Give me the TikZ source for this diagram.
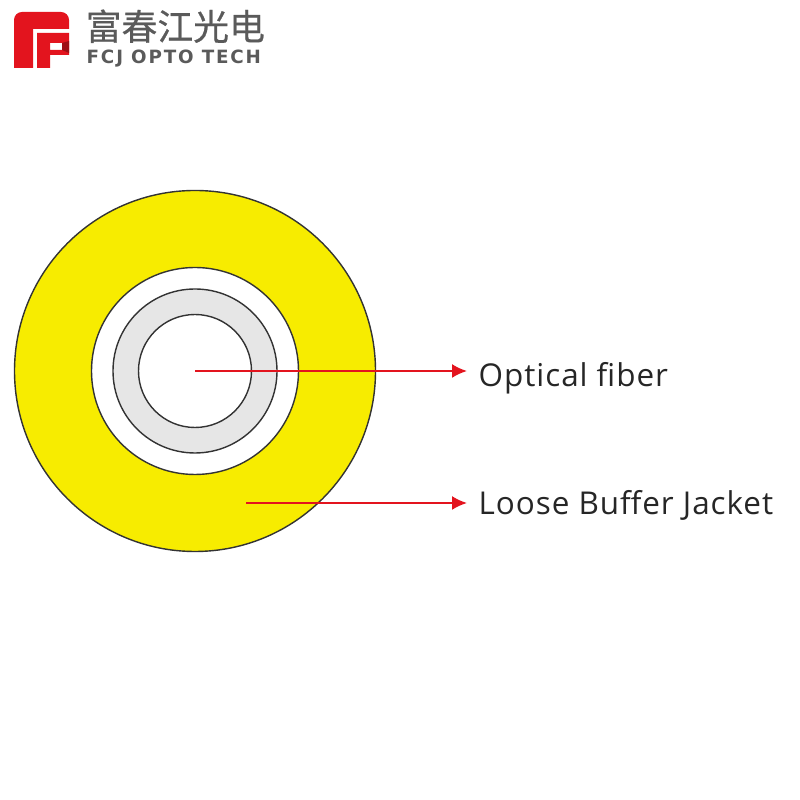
\documentclass[tikz,border=0pt]{standalone}
\usepackage{fontspec}
\setmainfont{Open Sans}
\newfontfamily\cjkfont[FakeBold=0.6]{Noto Sans CJK SC}
\newfontfamily\wordfont[LetterSpace=3]{Open Sans}
\newfontfamily\logofont[LetterSpace=10]{DejaVu Sans}
\usetikzlibrary{arrows.meta}
\definecolor{jacketyellow}{HTML}{F7EC00}
\definecolor{ringgray}{HTML}{E6E6E6}
\definecolor{arrowred}{HTML}{E3141E}
\definecolor{logored}{HTML}{E3141E}
\definecolor{logogray}{HTML}{5A5A5A}
\tikzset{
	ring/.style={draw=black!80,line width=0.4pt},
	callout/.style={draw=arrowred,line width=0.55pt,-{Latex[length=1.5mm,width=1.4mm]}},
	partlabel/.style={anchor=base west,inner sep=0pt,text=black!85,font=\wordfont\fontsize{8.95}{10}\selectfont},
}

\begin{document}
\begin{tikzpicture}[>=latex]
		\useasboundingbox (0,0) rectangle (8,8);
		%\draw [help lines] (0,0) grid (8,8);
		
		\fill [logored] (0.14,7.32) [rounded corners=0.8mm] -- (0.14,7.88) -- (0.69,7.88) [sharp corners] -- (0.69,7.71) -- (0.33,7.71) -- (0.33,7.32) -- cycle;
		\fill [logored] (0.37,7.32) -- (0.37,7.67) -- (0.69,7.67) -- (0.69,7.45) -- (0.50,7.45) -- (0.50,7.50) -- (0.62,7.50) -- (0.62,7.57) -- (0.50,7.57) -- (0.50,7.32) -- cycle;
		\fill [logored!70!black] (0.62,7.57) -- (0.69,7.59) -- (0.69,7.47) -- (0.62,7.50) -- cycle;
		\node [inner sep=0pt,anchor=base west,text=logogray,font=\cjkfont\fontsize{10.2}{11}\selectfont] (logoname) at (0.85,7.60) {富春江光电};
		\node [inner sep=0pt,anchor=base west,text=logogray,font=\logofont\bfseries\fontsize{5.2}{6}\selectfont] (logotext) at (0.86,7.365) {FCJ OPTO TECH};
		
		\coordinate (core) at (1.95,4.29);
		\fill [ring,fill=jacketyellow] (core) circle (1.805);
		\fill [ring,fill=white] (core) circle (1.035);
		\fill [ring,fill=ringgray] (core) circle (0.82);
		\fill [ring,fill=white] (core) circle (0.565);
		
		\coordinate (jacket) at (2.46,2.97);
		\coordinate (fibertip) at (4.67,4.29);
		\coordinate (jackettip) at (4.67,2.97);
		\draw [callout] (core) -- (fibertip);
		\draw [callout] (jacket) -- (jackettip);
		
		\node [partlabel] (fiberlabel) at (4.78,4.13) {Optical fiber};
		\node [partlabel] (jacketlabel) at (4.78,2.85) {Loose Buffer Jacket};
	\end{tikzpicture}
\end{document}
